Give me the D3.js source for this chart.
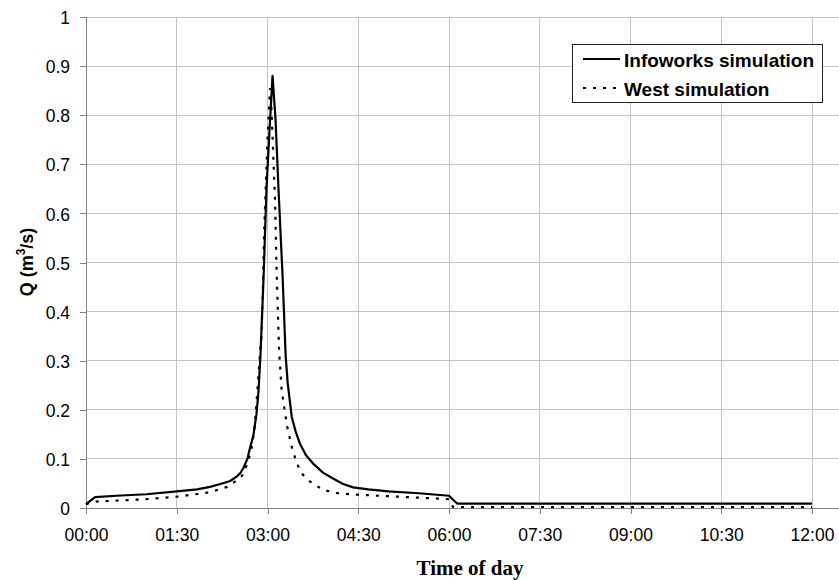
<!DOCTYPE html>
<html>
<head>
<meta charset="utf-8">
<script src="https://cdn.jsdelivr.net/npm/d3@7"></script>
<style>
  html, body { margin: 0; padding: 0; background: #fff; }
  svg { display: block; }
</style>
</head>
<body>
<svg id="chart" width="839" height="580"></svg>
<script>
// ---- data (time in minutes since 00:00, Q in m3/s) ----
const infoworksTimes = [0, 9, 30, 60, 90, 110, 123, 135, 143, 150, 153, 156, 160, 163, 166, 169, 171, 173, 176, 179, 182, 185, 188, 191, 195, 198, 200, 204, 208, 212, 218, 225, 235, 245, 255, 265, 280, 300, 330, 360, 368, 720];
const infoworksValues = [0.008, 0.022, 0.025, 0.028, 0.034, 0.038, 0.043, 0.050, 0.055, 0.065, 0.071, 0.081, 0.100, 0.125, 0.148, 0.190, 0.235, 0.310, 0.465, 0.650, 0.770, 0.880, 0.790, 0.645, 0.470, 0.310, 0.255, 0.186, 0.155, 0.132, 0.108, 0.091, 0.072, 0.060, 0.049, 0.042, 0.038, 0.034, 0.030, 0.025, 0.009, 0.009];

const westTimes = [0, 9, 30, 60, 90, 123, 140, 150, 155, 160, 164, 167, 169, 172, 174, 175.5, 176.5, 178, 180, 182.5, 184, 186.5, 187.5, 189, 191.5, 194, 199.5, 204, 209, 215, 222, 235, 250, 270, 300, 330, 360, 364, 720];
const westValues = [0.008, 0.013, 0.015, 0.018, 0.023, 0.032, 0.043, 0.057, 0.066, 0.090, 0.120, 0.160, 0.210, 0.300, 0.350, 0.450, 0.550, 0.640, 0.750, 0.855, 0.810, 0.675, 0.627, 0.485, 0.320, 0.240, 0.166, 0.125, 0.091, 0.068, 0.054, 0.037, 0.030, 0.027, 0.024, 0.021, 0.018, 0.002, 0.002];

const xTickValues = [0, 90, 180, 270, 360, 450, 540, 630, 720];
const xTickLabels = ["00:00", "01:30", "03:00", "04:30", "06:00", "07:30", "09:00", "10:30", "12:00"];
const yTickValues = [0, 0.1, 0.2, 0.3, 0.4, 0.5, 0.6, 0.7, 0.8, 0.9, 1];
const yTickLabels = ["0", "0.1", "0.2", "0.3", "0.4", "0.5", "0.6", "0.7", "0.8", "0.9", "1"];
const seriesNames = ["Infoworks simulation", "West simulation"];

// ---- layout ----
const plotLeft = 86, plotTop = 17, plotBottom = 508, xEnd = 812, plotRight = 839;
const sansFont = "'Liberation Sans', Arial, sans-serif";
const serifFont = "'Liberation Serif', 'Times New Roman', serif";

const svg = d3.select("#chart");
const x = d3.scaleLinear().domain([0, 720]).range([plotLeft, xEnd]);
const y = d3.scaleLinear().domain([0, 1]).range([plotBottom, plotTop]);

// grid
const grid = svg.append("g");
grid.selectAll("line.h").data(yTickValues.filter(v => v > 0)).join("line")
  .attr("x1", plotLeft).attr("x2", plotRight)
  .attr("y1", d => y(d)).attr("y2", d => y(d))
  .attr("stroke", "#c4c4c4").attr("stroke-width", 1).attr("shape-rendering", "crispEdges");
grid.selectAll("line.v").data(xTickValues.filter(v => v > 0)).join("line")
  .attr("x1", d => x(d)).attr("x2", d => x(d))
  .attr("y1", plotTop).attr("y2", plotBottom)
  .attr("stroke", "#c4c4c4").attr("stroke-width", 1).attr("shape-rendering", "crispEdges");

// axes
const yAxis = d3.axisLeft(y).tickValues(yTickValues)
  .tickFormat((d, i) => yTickLabels[i]).tickSize(6).tickPadding(10);
const gy = svg.append("g").attr("transform", `translate(${plotLeft},0)`).call(yAxis);
gy.select(".domain").remove();
gy.selectAll(".tick line").attr("stroke", "#808080").attr("shape-rendering", "crispEdges");
gy.selectAll(".tick text").attr("font-family", sansFont).attr("font-size", 17.5)
  .attr("fill", "#000").attr("dy", "0.38em");

const xAxis = d3.axisBottom(x).tickValues(xTickValues)
  .tickFormat((d, i) => xTickLabels[i]).tickSize(6).tickPadding(15);
const gx = svg.append("g").attr("transform", `translate(0,${plotBottom})`).call(xAxis);
gx.select(".domain").remove();
gx.selectAll(".tick line").attr("stroke", "#808080").attr("shape-rendering", "crispEdges");
gx.selectAll(".tick text").attr("font-family", sansFont).attr("font-size", 17.5).attr("fill", "#000");

// axis lines
svg.append("line").attr("x1", plotLeft).attr("x2", plotLeft).attr("y1", plotTop).attr("y2", plotBottom)
  .attr("stroke", "#808080").attr("shape-rendering", "crispEdges");
svg.append("line").attr("x1", plotLeft).attr("x2", plotRight).attr("y1", plotBottom).attr("y2", plotBottom)
  .attr("stroke", "#808080").attr("shape-rendering", "crispEdges");

// lines
const line = d3.line().x(d => x(d[0])).y(d => y(d[1]));
const westData = westTimes.map((t, i) => [t, westValues[i]]);
const infoData = infoworksTimes.map((t, i) => [t, infoworksValues[i]]);

svg.append("path").datum(westData).attr("d", line)
  .attr("fill", "none").attr("stroke", "#000").attr("stroke-width", 2.2)
  .attr("stroke-dasharray", "3,7");
svg.append("path").datum(infoData).attr("d", line)
  .attr("fill", "none").attr("stroke", "#000").attr("stroke-width", 2.2)
  .attr("stroke-linejoin", "round");

// legend
const lg = svg.append("g");
lg.append("rect").attr("x", 572.5).attr("y", 44.5).attr("width", 250).attr("height", 58)
  .attr("fill", "#fff").attr("stroke", "#222").attr("stroke-width", 1);
const legendRows = [{ y: 59, dash: null }, { y: 88, dash: "3,7" }];
legendRows.forEach((r, i) => {
  const l = lg.append("line").attr("x1", 583).attr("x2", 620).attr("y1", r.y).attr("y2", r.y)
    .attr("stroke", "#000").attr("stroke-width", 2);
  if (r.dash) l.attr("stroke-dasharray", r.dash);
  lg.append("text").attr("x", 624).attr("y", r.y + 7.5)
    .attr("font-family", sansFont).attr("font-weight", "bold").attr("font-size", 19)
    .text(seriesNames[i]);
});

// axis titles
const yt = svg.append("text").attr("transform", `translate(33,262) rotate(-90)`)
  .attr("text-anchor", "middle").attr("font-family", sansFont)
  .attr("font-weight", "bold").attr("font-size", 18);
yt.append("tspan").text("Q (m");
yt.append("tspan").attr("font-size", 12).attr("dy", "-0.7em").text("3");
yt.append("tspan").attr("dy", "0.47em").text("/s)");

svg.append("text").attr("x", 470).attr("y", 575).attr("text-anchor", "middle")
  .attr("font-family", serifFont).attr("font-weight", "bold").attr("font-size", 21)
  .text("Time of day");
</script>
</body>
</html>
